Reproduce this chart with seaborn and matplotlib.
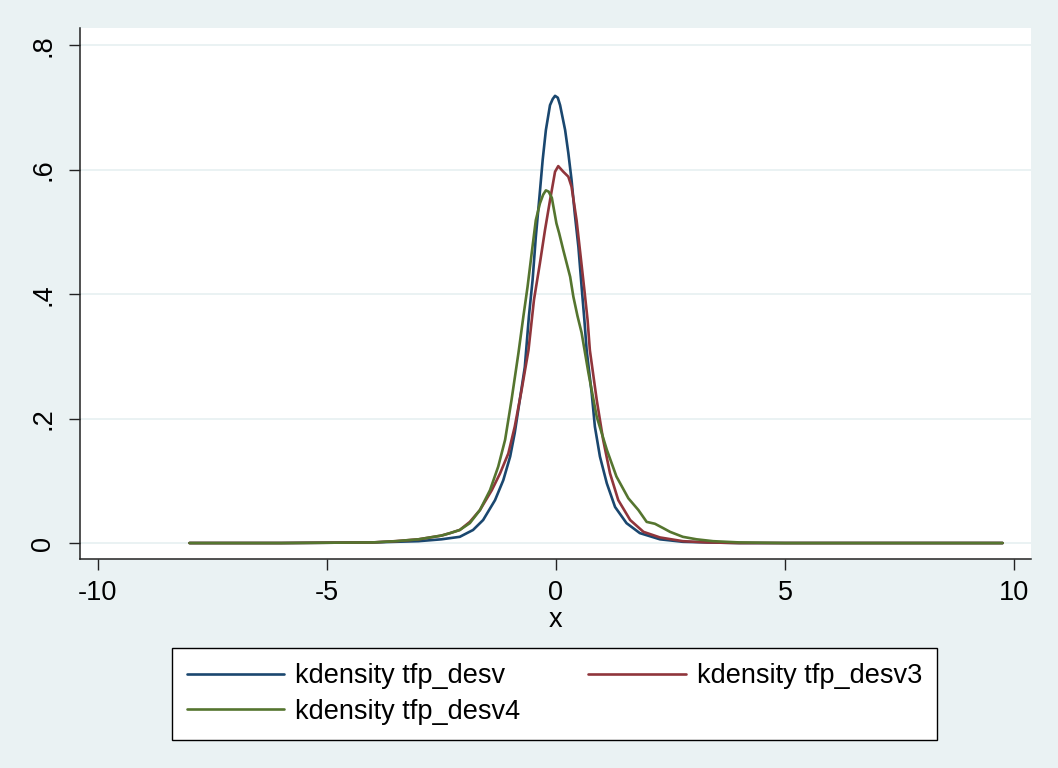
import pandas as pd
import seaborn as sns
import matplotlib.pyplot as plt

# kernel density curves
x_desv = [-8.0, -6.0, -4.0, -3.5, -3.0, -2.5, -2.1, -1.81, -1.59, -1.33, -1.15, -1.00,
          -0.90, -0.79, -0.68, -0.59, -0.51, -0.44, -0.36, -0.29, -0.22, -0.13, -0.07,
          -0.02, 0.04, 0.09, 0.20, 0.27, 0.34, 0.41, 0.49, 0.56, 0.62, 0.67, 0.78, 0.85,
          0.96, 1.11, 1.29, 1.54, 1.83, 2.27, 2.77, 3.3, 4.0, 5.0, 7.0, 9.75]
y_desv = [0, 0, 0.001, 0.002, 0.003, 0.006, 0.010, 0.021, 0.037, 0.069, 0.101, 0.139,
          0.177, 0.230, 0.283, 0.365, 0.423, 0.492, 0.557, 0.616, 0.664, 0.704, 0.714,
          0.719, 0.716, 0.704, 0.664, 0.627, 0.584, 0.530, 0.476, 0.412, 0.359, 0.310,
          0.241, 0.187, 0.139, 0.096, 0.058, 0.032, 0.016, 0.006, 0.002, 0.001, 0, 0, 0, 0]

x_desv3 = [-8.0, -6.0, -4.0, -3.5, -3.0, -2.5, -2.31, -2.1, -1.88, -1.66, -1.40, -1.22,
           -1.04, -0.90, -0.75, -0.60, -0.48, -0.35, -0.24, -0.13, -0.02, 0.05, 0.16,
           0.27, 0.34, 0.45, 0.54, 0.62, 0.69, 0.74, 0.89, 1.03, 1.18, 1.36, 1.62, 1.91,
           2.27, 2.77, 3.3, 4.0, 5.0, 7.0, 9.75]
y_desv3 = [0, 0, 0.001, 0.003, 0.006, 0.012, 0.016, 0.021, 0.034, 0.053, 0.085, 0.112,
           0.144, 0.187, 0.246, 0.310, 0.391, 0.450, 0.503, 0.551, 0.597, 0.606, 0.597,
           0.589, 0.573, 0.519, 0.460, 0.407, 0.359, 0.310, 0.230, 0.166, 0.112, 0.069,
           0.037, 0.018, 0.009, 0.003, 0.001, 0, 0, 0, 0]

x_desv4 = [-8.0, -6.0, -4.0, -3.5, -3.0, -2.5, -2.31, -2.1, -1.88, -1.66, -1.44, -1.26,
           -1.11, -0.97, -0.82, -0.71, -0.62, -0.53, -0.44, -0.35, -0.28, -0.22, -0.16,
           -0.09, 0.01, 0.07, 0.16, 0.31, 0.38, 0.47, 0.56, 0.71, 0.89, 1.11, 1.32, 1.58,
           1.80, 1.98, 2.16, 2.34, 2.49, 2.77, 3.07, 3.43, 4.0, 5.0, 7.0, 9.75]
y_desv4 = [0, 0, 0.001, 0.003, 0.006, 0.012, 0.016, 0.021, 0.032, 0.053, 0.085, 0.123,
           0.166, 0.230, 0.305, 0.365, 0.412, 0.466, 0.519, 0.546, 0.560, 0.567, 0.565,
           0.555, 0.514, 0.498, 0.471, 0.428, 0.396, 0.365, 0.338, 0.273, 0.203, 0.150,
           0.107, 0.072, 0.053, 0.034, 0.031, 0.024, 0.018, 0.010, 0.006, 0.003, 0.001,
           0, 0, 0]

series_names = ['kdensity tfp_desv', 'kdensity tfp_desv3', 'kdensity tfp_desv4']
y_ticks = [0, 0.2, 0.4, 0.6, 0.8]
y_ticklabels = ['0', '.2', '.4', '.6', '.8']
x_ticks = [-10, -5, 0, 5, 10]

df = pd.concat([
    pd.DataFrame({'x': x_desv, 'density': y_desv, 'series': series_names[0]}),
    pd.DataFrame({'x': x_desv3, 'density': y_desv3, 'series': series_names[1]}),
    pd.DataFrame({'x': x_desv4, 'density': y_desv4, 'series': series_names[2]}),
], ignore_index=True)

sns.set_theme(style="white")
plt.rcParams['font.family'] = ['Liberation Sans', 'DejaVu Sans']
plt.rcParams['text.color'] = 'black'

bg = '#eaf2f3'
colors = ['#1a476f', '#90353b', '#55752f']

fig = plt.figure(figsize=(10.58, 7.68), dpi=100, facecolor=bg)
ax = fig.add_axes([0.0756, 0.2721, 0.8989, 0.6914])
ax.set_facecolor('white')

sns.lineplot(data=df, x='x', y='density', hue='series', hue_order=series_names,
             palette=colors, linewidth=1.9, estimator=None, sort=True, ax=ax)
for line in ax.get_lines():
    line.set_solid_joinstyle('round')

ax.set_xlim(-10.39, 10.37)
ax.set_ylim(-0.0257, 0.828)
ax.set_xticks(x_ticks, [str(t) for t in x_ticks])
ax.set_yticks(y_ticks, y_ticklabels, rotation=90, va='center')
ax.yaxis.grid(True, color=bg, linewidth=1.4)
ax.xaxis.grid(False)
ax.set_axisbelow(True)

for side in ['top', 'right']:
    ax.spines[side].set_visible(False)
for side in ['left', 'bottom']:
    ax.spines[side].set_color('#222222')
    ax.spines[side].set_linewidth(1.1)

ax.tick_params(axis='both', bottom=True, left=True, length=8, width=1.0,
               color='#222222', labelsize=19.5, labelcolor='black')
ax.tick_params(axis='x', pad=7)
ax.tick_params(axis='y', pad=9)
ax.set_xlabel('x', fontsize=19.5, labelpad=1, color='black')
ax.set_ylabel('')

# row-wise legend order like Stata: desv, desv3 / desv4
handles, labels = ax.get_legend_handles_labels()
ax.get_legend().remove()
order = [0, 2, 1]
leg = fig.legend([handles[i] for i in order], [labels[i] for i in order],
                 loc='center', bbox_to_anchor=(0.5241, 0.0964),
                 ncol=2, fontsize=19.5, frameon=True, fancybox=False,
                 facecolor='white', framealpha=1.0, labelcolor='black',
                 handlelength=3.6, handletextpad=0.42, columnspacing=2.5,
                 labelspacing=0.35, borderpad=0.55)
leg.get_frame().set_edgecolor('black')
leg.get_frame().set_linewidth(1.0)
for line in leg.get_lines():
    line.set_linewidth(1.9)

fig.savefig('out.png', dpi=100, facecolor=bg)
